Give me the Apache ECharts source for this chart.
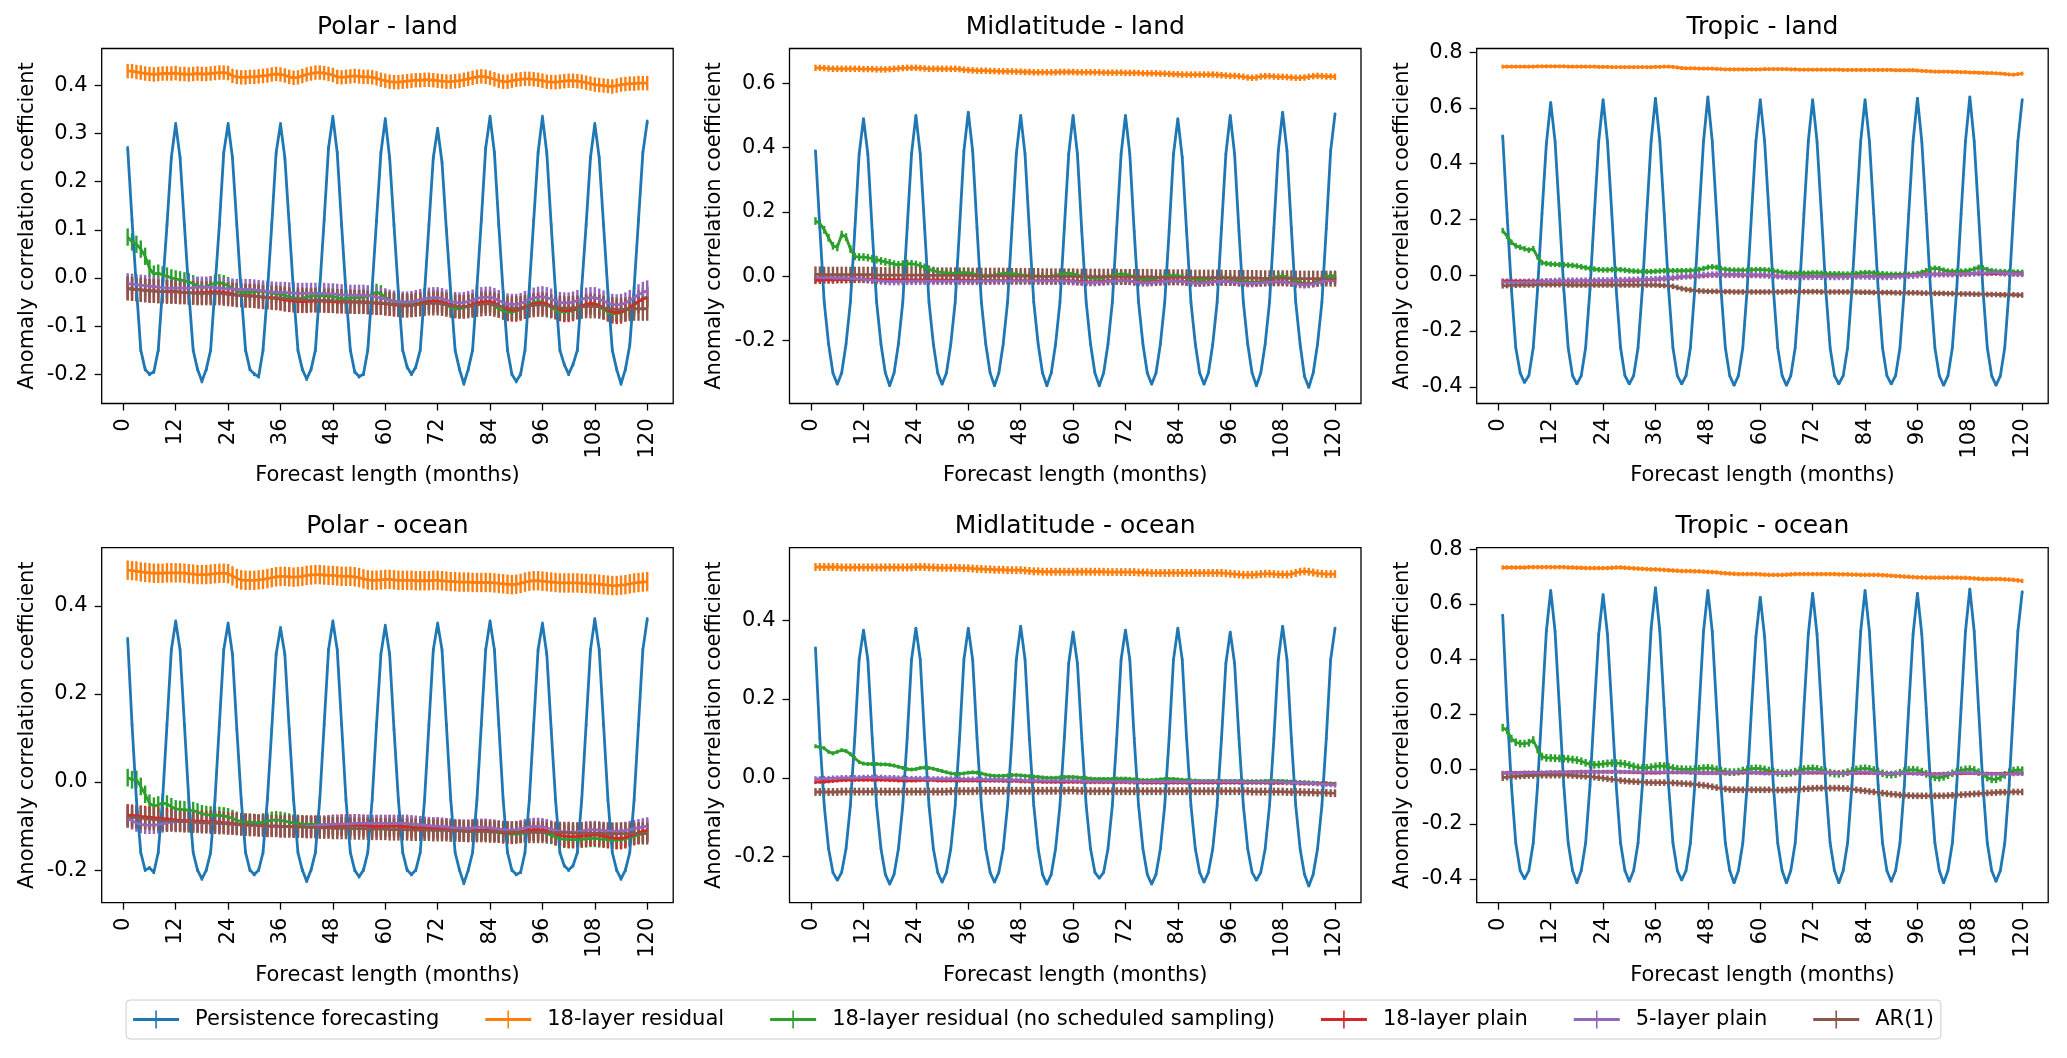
<!DOCTYPE html>
<html>
<head>
<meta charset="utf-8">
<title>Anomaly correlation coefficient</title>
<script src="https://cdn.jsdelivr.net/npm/echarts@6.0.0/dist/echarts.min.js"></script>
<style>
  body { margin: 0; background: #fff; }
  #main { width: 2067px; height: 1058px; }
</style>
</head>
<body>
<div id="main"></div>
<script>
// forecast months 1..120 (x positions)
const months = Array.from({ length: 120 }, (_, i) => i + 1);
const xTicks = [0, 12, 24, 36, 48, 60, 72, 84, 96, 108, 120];

const seriesNames = [
  "Persistence forecasting",
  "18-layer residual",
  "18-layer residual (no scheduled sampling)",
  "18-layer plain",
  "5-layer plain",
  "AR(1)"
];

// ---------- Polar - land ----------
const yTicksPolarLand = [-0.2, -0.1, 0, 0.1, 0.2, 0.3, 0.4];
const errPolarLand = [0.004, 0.015, 0.018, 0.024, 0.022, 0.025];
const persPolarLand = [
  0.27,0.12,-0.02,-0.15,-0.19,-0.2,-0.195,-0.15,-0.02,0.11,0.25,0.32,
  0.25,0.11,-0.03,-0.15,-0.19,-0.215,-0.19,-0.15,-0.02,0.11,0.26,0.32,
  0.25,0.11,-0.03,-0.15,-0.19,-0.2,-0.205,-0.15,-0.03,0.11,0.26,0.32,
  0.25,0.11,-0.03,-0.15,-0.19,-0.21,-0.19,-0.15,-0.02,0.12,0.27,0.335,
  0.26,0.11,-0.03,-0.15,-0.195,-0.205,-0.2,-0.15,-0.02,0.12,0.26,0.33,
  0.25,0.11,-0.03,-0.15,-0.185,-0.2,-0.185,-0.15,-0.03,0.11,0.25,0.31,
  0.24,0.1,-0.03,-0.15,-0.19,-0.22,-0.19,-0.15,-0.02,0.12,0.27,0.335,
  0.26,0.11,-0.03,-0.15,-0.2,-0.215,-0.2,-0.15,-0.02,0.12,0.26,0.335,
  0.26,0.11,-0.03,-0.15,-0.18,-0.2,-0.18,-0.15,-0.02,0.11,0.25,0.32,
  0.25,0.11,-0.03,-0.15,-0.19,-0.22,-0.19,-0.14,-0.02,0.12,0.26,0.325
];
const resPolarLand = [
  0.43,0.43,0.428,0.427,0.425,0.424,0.423,0.424,0.425,0.425,
  0.425,0.426,0.424,0.424,0.423,0.424,0.425,0.424,0.424,0.425,
  0.426,0.427,0.427,0.426,0.42,0.418,0.417,0.417,0.418,0.418,
  0.419,0.42,0.421,0.423,0.424,0.423,0.421,0.418,0.416,0.417,
  0.42,0.423,0.425,0.427,0.427,0.426,0.424,0.422,0.418,0.417,
  0.418,0.419,0.42,0.419,0.418,0.418,0.417,0.415,0.412,0.41,
  0.408,0.407,0.407,0.408,0.409,0.41,0.411,0.411,0.412,0.412,
  0.411,0.41,0.409,0.408,0.408,0.409,0.41,0.412,0.414,0.416,
  0.418,0.419,0.418,0.416,0.413,0.41,0.408,0.408,0.41,0.412,
  0.413,0.414,0.414,0.413,0.412,0.41,0.408,0.407,0.407,0.408,
  0.409,0.41,0.41,0.409,0.408,0.406,0.404,0.402,0.401,0.4,
  0.399,0.398,0.4,0.402,0.403,0.404,0.404,0.405,0.405,0.405
];
const noSsPolarLand = [
  0.085,0.075,0.07,0.06,0.045,0.02,0.008,0.01,0.006,0.004,
  0.0,-0.002,-0.004,-0.006,-0.008,-0.012,-0.016,-0.02,-0.018,-0.014,
  -0.011,-0.01,-0.012,-0.016,-0.022,-0.027,-0.03,-0.03,-0.03,-0.029,
  -0.028,-0.028,-0.029,-0.031,-0.033,-0.034,-0.036,-0.039,-0.042,-0.043,
  -0.042,-0.04,-0.038,-0.037,-0.037,-0.037,-0.038,-0.039,-0.041,-0.043,
  -0.043,-0.042,-0.041,-0.041,-0.04,-0.038,-0.034,-0.03,-0.033,-0.04,
  -0.046,-0.05,-0.052,-0.054,-0.055,-0.055,-0.054,-0.052,-0.05,-0.048,
  -0.047,-0.048,-0.052,-0.057,-0.061,-0.064,-0.064,-0.062,-0.059,-0.056,
  -0.054,-0.052,-0.051,-0.053,-0.058,-0.064,-0.069,-0.071,-0.071,-0.069,
  -0.065,-0.06,-0.055,-0.051,-0.049,-0.05,-0.055,-0.061,-0.067,-0.07,
  -0.071,-0.07,-0.068,-0.064,-0.06,-0.056,-0.054,-0.055,-0.06,-0.066,
  -0.071,-0.074,-0.074,-0.072,-0.068,-0.063,-0.056,-0.049,-0.043,-0.04
];
const plainPolarLand = [
  -0.022,-0.023,-0.024,-0.025,-0.026,-0.027,-0.027,-0.028,-0.028,-0.028,
  -0.028,-0.028,-0.029,-0.03,-0.031,-0.031,-0.031,-0.03,-0.03,-0.029,
  -0.029,-0.029,-0.03,-0.031,-0.033,-0.035,-0.036,-0.037,-0.037,-0.038,
  -0.039,-0.04,-0.041,-0.042,-0.043,-0.044,-0.046,-0.047,-0.048,-0.049,
  -0.049,-0.049,-0.048,-0.048,-0.048,-0.048,-0.049,-0.049,-0.05,-0.05,
  -0.05,-0.05,-0.05,-0.05,-0.05,-0.051,-0.052,-0.053,-0.053,-0.054,
  -0.055,-0.056,-0.057,-0.058,-0.058,-0.057,-0.055,-0.053,-0.051,-0.049,
  -0.048,-0.048,-0.05,-0.053,-0.056,-0.059,-0.06,-0.06,-0.058,-0.055,
  -0.052,-0.05,-0.049,-0.049,-0.052,-0.057,-0.062,-0.066,-0.067,-0.067,
  -0.065,-0.061,-0.057,-0.054,-0.052,-0.052,-0.054,-0.058,-0.062,-0.066,
  -0.068,-0.068,-0.066,-0.062,-0.058,-0.055,-0.053,-0.054,-0.057,-0.062,
  -0.067,-0.071,-0.072,-0.071,-0.067,-0.061,-0.055,-0.049,-0.044,-0.041
];
const plain5PolarLand = [
  -0.012,-0.013,-0.014,-0.015,-0.016,-0.017,-0.018,-0.019,-0.02,-0.021,
  -0.021,-0.021,-0.021,-0.021,-0.021,-0.02,-0.019,-0.019,-0.019,-0.019,
  -0.02,-0.021,-0.022,-0.022,-0.023,-0.024,-0.024,-0.024,-0.024,-0.025,
  -0.026,-0.027,-0.028,-0.029,-0.03,-0.03,-0.03,-0.031,-0.031,-0.032,
  -0.032,-0.032,-0.032,-0.032,-0.032,-0.032,-0.033,-0.033,-0.034,-0.035,
  -0.035,-0.036,-0.036,-0.036,-0.036,-0.037,-0.038,-0.04,-0.042,-0.044,
  -0.046,-0.048,-0.049,-0.05,-0.05,-0.049,-0.047,-0.045,-0.043,-0.042,
  -0.041,-0.041,-0.043,-0.046,-0.049,-0.051,-0.052,-0.051,-0.049,-0.046,
  -0.043,-0.041,-0.04,-0.04,-0.043,-0.047,-0.051,-0.054,-0.055,-0.055,
  -0.053,-0.049,-0.045,-0.042,-0.04,-0.039,-0.041,-0.044,-0.048,-0.051,
  -0.052,-0.052,-0.05,-0.047,-0.044,-0.042,-0.041,-0.041,-0.044,-0.048,
  -0.052,-0.055,-0.056,-0.055,-0.052,-0.047,-0.041,-0.035,-0.03,-0.027
];
const arPolarLand = [
  -0.022,-0.023,-0.024,-0.025,-0.026,-0.027,-0.027,-0.028,-0.028,-0.029,
  -0.029,-0.029,-0.03,-0.03,-0.031,-0.031,-0.032,-0.032,-0.032,-0.032,
  -0.032,-0.032,-0.033,-0.034,-0.035,-0.036,-0.036,-0.037,-0.037,-0.038,
  -0.039,-0.04,-0.04,-0.041,-0.041,-0.042,-0.043,-0.044,-0.044,-0.045,
  -0.045,-0.046,-0.046,-0.046,-0.046,-0.047,-0.047,-0.047,-0.048,-0.048,
  -0.049,-0.049,-0.05,-0.05,-0.05,-0.051,-0.051,-0.052,-0.052,-0.053,
  -0.054,-0.055,-0.056,-0.057,-0.057,-0.057,-0.056,-0.055,-0.054,-0.053,
  -0.053,-0.053,-0.054,-0.056,-0.058,-0.059,-0.06,-0.06,-0.059,-0.058,
  -0.056,-0.055,-0.054,-0.054,-0.056,-0.058,-0.06,-0.062,-0.063,-0.063,
  -0.062,-0.06,-0.058,-0.057,-0.056,-0.056,-0.057,-0.059,-0.061,-0.062,
  -0.063,-0.063,-0.062,-0.061,-0.06,-0.059,-0.059,-0.059,-0.06,-0.062,
  -0.064,-0.065,-0.066,-0.066,-0.065,-0.065,-0.064,-0.064,-0.064,-0.064
];

// ---------- Midlatitude - land ----------
const yTicksMidLand = [-0.2, 0, 0.2, 0.4, 0.6];
const errMidLand = [0.004, 0.01, 0.012, 0.012, 0.012, 0.025];
const persMidLand = [
  0.39,0.15,-0.08,-0.21,-0.3,-0.335,-0.3,-0.21,-0.08,0.14,0.38,0.49,
  0.38,0.14,-0.08,-0.21,-0.3,-0.34,-0.3,-0.21,-0.08,0.15,0.38,0.5,
  0.38,0.15,-0.08,-0.21,-0.3,-0.335,-0.3,-0.21,-0.08,0.15,0.39,0.51,
  0.39,0.15,-0.08,-0.21,-0.3,-0.34,-0.3,-0.21,-0.08,0.15,0.38,0.5,
  0.38,0.14,-0.08,-0.21,-0.3,-0.34,-0.3,-0.21,-0.08,0.15,0.38,0.5,
  0.38,0.14,-0.08,-0.21,-0.3,-0.34,-0.3,-0.21,-0.08,0.15,0.38,0.5,
  0.38,0.14,-0.08,-0.21,-0.3,-0.335,-0.3,-0.21,-0.08,0.14,0.38,0.49,
  0.37,0.14,-0.08,-0.21,-0.3,-0.335,-0.3,-0.21,-0.08,0.15,0.38,0.5,
  0.38,0.14,-0.08,-0.21,-0.3,-0.34,-0.3,-0.21,-0.08,0.15,0.39,0.51,
  0.39,0.15,-0.08,-0.21,-0.31,-0.345,-0.3,-0.21,-0.08,0.15,0.39,0.505
];
const resMidLand = [
  0.648,0.648,0.647,0.646,0.645,0.645,0.645,0.645,0.645,0.645,
  0.645,0.644,0.644,0.644,0.643,0.643,0.643,0.644,0.645,0.646,
  0.647,0.648,0.648,0.648,0.647,0.646,0.645,0.645,0.645,0.645,
  0.645,0.645,0.645,0.644,0.642,0.641,0.64,0.639,0.639,0.639,
  0.638,0.638,0.637,0.637,0.637,0.637,0.636,0.636,0.635,0.635,
  0.634,0.634,0.634,0.634,0.634,0.634,0.635,0.635,0.635,0.635,
  0.634,0.634,0.634,0.634,0.634,0.634,0.633,0.633,0.633,0.633,
  0.633,0.632,0.632,0.632,0.632,0.631,0.631,0.631,0.631,0.63,
  0.63,0.629,0.628,0.628,0.627,0.627,0.627,0.627,0.627,0.627,
  0.627,0.627,0.626,0.625,0.624,0.623,0.623,0.622,0.62,0.618,
  0.617,0.618,0.621,0.622,0.622,0.621,0.62,0.62,0.619,0.618,
  0.617,0.617,0.618,0.62,0.622,0.623,0.622,0.621,0.621,0.62
];
const noSsMidLand = [
  0.172,0.165,0.145,0.12,0.095,0.09,0.13,0.122,0.085,0.062,
  0.06,0.06,0.058,0.055,0.052,0.048,0.045,0.042,0.038,0.036,
  0.038,0.04,0.039,0.037,0.033,0.028,0.022,0.018,0.014,0.012,
  0.011,0.01,0.01,0.011,0.012,0.011,0.009,0.005,0.001,-0.001,
  0.0,0.003,0.007,0.009,0.01,0.009,0.007,0.005,0.003,0.002,
  0.001,0.0,0.0,0.0,0.001,0.003,0.006,0.009,0.01,0.008,
  0.004,0.0,-0.003,-0.005,-0.006,-0.006,-0.004,-0.001,0.003,0.006,
  0.008,0.007,0.003,-0.002,-0.006,-0.009,-0.01,-0.009,-0.006,-0.003,
  0.0,0.002,0.003,0.002,-0.001,-0.005,-0.008,-0.01,-0.011,-0.01,
  -0.008,-0.006,-0.004,-0.003,-0.003,-0.005,-0.008,-0.012,-0.015,-0.017,
  -0.018,-0.018,-0.016,-0.012,-0.007,-0.003,0.0,0.001,-0.002,-0.008,
  -0.014,-0.019,-0.022,-0.023,-0.02,-0.014,-0.007,-0.001,0.002,0.002
];
const plainMidLand = [
  -0.012,-0.012,-0.011,-0.011,-0.011,-0.01,-0.01,-0.01,-0.01,-0.009,
  -0.009,-0.009,-0.009,-0.009,-0.01,-0.01,-0.01,-0.01,-0.01,-0.011,
  -0.011,-0.011,-0.011,-0.011,-0.011,-0.011,-0.011,-0.011,-0.011,-0.011,
  -0.012,-0.012,-0.012,-0.012,-0.012,-0.012,-0.013,-0.013,-0.013,-0.013,
  -0.013,-0.013,-0.013,-0.013,-0.013,-0.013,-0.013,-0.013,-0.013,-0.013,
  -0.013,-0.013,-0.013,-0.013,-0.013,-0.013,-0.013,-0.013,-0.013,-0.014,
  -0.015,-0.016,-0.017,-0.017,-0.017,-0.016,-0.015,-0.014,-0.013,-0.013,
  -0.013,-0.013,-0.014,-0.016,-0.017,-0.018,-0.018,-0.017,-0.016,-0.015,
  -0.014,-0.014,-0.014,-0.014,-0.015,-0.017,-0.019,-0.02,-0.02,-0.019,
  -0.018,-0.016,-0.015,-0.015,-0.015,-0.016,-0.017,-0.019,-0.02,-0.021,
  -0.021,-0.02,-0.019,-0.018,-0.017,-0.017,-0.017,-0.017,-0.018,-0.02,
  -0.022,-0.023,-0.024,-0.023,-0.021,-0.019,-0.016,-0.014,-0.012,-0.012
];
const plain5MidLand = [
  -0.004,-0.004,-0.004,-0.004,-0.005,-0.005,-0.005,-0.006,-0.006,-0.007,
  -0.008,-0.009,-0.01,-0.012,-0.013,-0.014,-0.015,-0.016,-0.016,-0.016,
  -0.016,-0.015,-0.015,-0.015,-0.015,-0.015,-0.015,-0.015,-0.015,-0.015,
  -0.015,-0.015,-0.015,-0.015,-0.015,-0.015,-0.015,-0.015,-0.015,-0.015,
  -0.015,-0.014,-0.014,-0.014,-0.014,-0.014,-0.014,-0.014,-0.014,-0.014,
  -0.014,-0.014,-0.014,-0.014,-0.014,-0.014,-0.014,-0.014,-0.015,-0.016,
  -0.017,-0.018,-0.019,-0.019,-0.019,-0.018,-0.017,-0.016,-0.015,-0.014,
  -0.014,-0.014,-0.015,-0.017,-0.019,-0.02,-0.02,-0.019,-0.018,-0.017,
  -0.016,-0.015,-0.015,-0.015,-0.016,-0.018,-0.02,-0.021,-0.021,-0.02,
  -0.019,-0.017,-0.016,-0.016,-0.016,-0.017,-0.018,-0.02,-0.021,-0.022,
  -0.022,-0.021,-0.02,-0.019,-0.018,-0.017,-0.017,-0.018,-0.019,-0.021,
  -0.023,-0.025,-0.026,-0.025,-0.023,-0.02,-0.017,-0.014,-0.012,-0.011
];
const arMidLand = [
  0.006,0.006,0.005,0.005,0.005,0.005,0.005,0.005,0.005,0.005,
  0.005,0.005,0.005,0.005,0.004,0.004,0.004,0.004,0.004,0.004,
  0.004,0.004,0.004,0.004,0.004,0.004,0.003,0.003,0.003,0.003,
  0.003,0.003,0.003,0.003,0.003,0.003,0.002,0.002,0.002,0.002,
  0.002,0.002,0.002,0.002,0.002,0.001,0.001,0.001,0.001,0.001,
  0.001,0.001,0.0,0.0,0.0,0.0,0.0,0.0,0.0,0.0,
  -0.001,-0.001,-0.001,-0.001,-0.001,-0.001,-0.001,-0.001,-0.001,-0.001,
  -0.002,-0.002,-0.002,-0.002,-0.002,-0.002,-0.002,-0.002,-0.003,-0.003,
  -0.003,-0.003,-0.003,-0.003,-0.003,-0.003,-0.004,-0.004,-0.004,-0.004,
  -0.004,-0.004,-0.004,-0.004,-0.005,-0.005,-0.005,-0.005,-0.005,-0.005,
  -0.005,-0.005,-0.006,-0.006,-0.006,-0.006,-0.006,-0.006,-0.006,-0.006,
  -0.007,-0.007,-0.007,-0.007,-0.007,-0.007,-0.007,-0.007,-0.007,-0.007
];

// ---------- Tropic - land ----------
const yTicksTropicLand = [-0.4, -0.2, 0, 0.2, 0.4, 0.6, 0.8];
const errTropicLand = [0.004, 0.007, 0.01, 0.008, 0.012, 0.01];
const persTropicLand = [
  0.5,0.22,-0.05,-0.26,-0.35,-0.385,-0.36,-0.26,-0.05,0.22,0.47,0.62,
  0.48,0.22,-0.05,-0.26,-0.36,-0.39,-0.36,-0.26,-0.05,0.22,0.48,0.63,
  0.48,0.22,-0.05,-0.26,-0.36,-0.39,-0.36,-0.26,-0.05,0.22,0.48,0.635,
  0.48,0.22,-0.05,-0.26,-0.36,-0.39,-0.36,-0.26,-0.05,0.22,0.48,0.64,
  0.48,0.22,-0.05,-0.26,-0.36,-0.395,-0.36,-0.26,-0.05,0.22,0.48,0.63,
  0.48,0.22,-0.05,-0.26,-0.36,-0.395,-0.36,-0.26,-0.05,0.22,0.48,0.63,
  0.48,0.22,-0.05,-0.26,-0.36,-0.39,-0.36,-0.26,-0.05,0.22,0.48,0.63,
  0.48,0.22,-0.05,-0.26,-0.36,-0.39,-0.36,-0.26,-0.05,0.22,0.48,0.635,
  0.48,0.22,-0.05,-0.26,-0.36,-0.395,-0.36,-0.26,-0.05,0.22,0.48,0.64,
  0.48,0.22,-0.05,-0.26,-0.36,-0.395,-0.36,-0.26,-0.05,0.22,0.48,0.63
];
const resTropicLand = [
  0.748,0.748,0.748,0.748,0.748,0.748,0.748,0.748,0.749,0.749,
  0.749,0.749,0.749,0.749,0.749,0.748,0.748,0.748,0.748,0.748,
  0.748,0.748,0.747,0.747,0.747,0.746,0.746,0.746,0.746,0.746,
  0.746,0.746,0.746,0.746,0.746,0.747,0.747,0.748,0.748,0.747,
  0.745,0.743,0.742,0.742,0.742,0.741,0.741,0.741,0.741,0.74,
  0.739,0.738,0.738,0.738,0.738,0.738,0.738,0.738,0.738,0.738,
  0.739,0.739,0.739,0.739,0.739,0.739,0.738,0.738,0.737,0.737,
  0.737,0.737,0.737,0.737,0.737,0.737,0.737,0.737,0.736,0.736,
  0.736,0.736,0.736,0.736,0.736,0.736,0.736,0.736,0.736,0.736,
  0.735,0.735,0.735,0.735,0.735,0.734,0.733,0.732,0.731,0.73,
  0.73,0.73,0.73,0.729,0.729,0.728,0.728,0.727,0.727,0.726,
  0.726,0.725,0.725,0.724,0.723,0.722,0.72,0.719,0.721,0.723
];
const noSsTropicLand = [
  0.16,0.14,0.118,0.105,0.1,0.095,0.09,0.095,0.065,0.045,
  0.042,0.04,0.039,0.038,0.037,0.036,0.035,0.033,0.03,0.027,
  0.024,0.022,0.02,0.019,0.019,0.02,0.021,0.02,0.018,0.016,
  0.015,0.014,0.013,0.013,0.013,0.014,0.015,0.016,0.016,0.016,
  0.016,0.016,0.016,0.017,0.018,0.02,0.024,0.028,0.03,0.028,
  0.024,0.021,0.019,0.018,0.018,0.018,0.018,0.019,0.02,0.02,
  0.019,0.018,0.016,0.013,0.01,0.008,0.007,0.007,0.007,0.007,
  0.007,0.008,0.008,0.007,0.006,0.005,0.005,0.005,0.004,0.004,
  0.005,0.006,0.008,0.009,0.009,0.008,0.006,0.005,0.004,0.003,
  0.003,0.003,0.003,0.003,0.004,0.006,0.01,0.016,0.022,0.025,
  0.023,0.018,0.015,0.014,0.014,0.014,0.015,0.017,0.022,0.028,
  0.026,0.02,0.016,0.014,0.013,0.012,0.012,0.011,0.011,0.01
];
const plainTropicLand = [
  -0.02,-0.02,-0.021,-0.021,-0.021,-0.021,-0.021,-0.021,-0.021,-0.021,
  -0.021,-0.021,-0.021,-0.021,-0.021,-0.021,-0.021,-0.021,-0.02,-0.02,
  -0.02,-0.02,-0.02,-0.02,-0.02,-0.02,-0.019,-0.019,-0.019,-0.019,
  -0.018,-0.018,-0.017,-0.017,-0.016,-0.015,-0.014,-0.013,-0.012,-0.01,
  -0.008,-0.006,-0.005,-0.004,-0.003,-0.002,-0.001,0.0,0.001,0.001,
  0.001,0.001,0.001,0.001,0.001,0.0,0.0,0.0,0.0,0.0,
  0.0,-0.001,-0.002,-0.003,-0.004,-0.005,-0.005,-0.005,-0.005,-0.005,
  -0.005,-0.004,-0.004,-0.004,-0.004,-0.005,-0.005,-0.005,-0.005,-0.005,
  -0.004,-0.003,-0.003,-0.003,-0.004,-0.004,-0.005,-0.005,-0.005,-0.004,
  -0.003,-0.002,-0.002,-0.001,0.0,0.001,0.002,0.003,0.004,0.004,
  0.004,0.004,0.004,0.004,0.004,0.004,0.005,0.005,0.006,0.006,
  0.006,0.006,0.006,0.006,0.006,0.005,0.005,0.005,0.004,0.004
];
const plain5TropicLand = [
  -0.025,-0.025,-0.025,-0.025,-0.025,-0.025,-0.024,-0.024,-0.024,-0.023,
  -0.022,-0.022,-0.021,-0.02,-0.02,-0.02,-0.02,-0.02,-0.02,-0.02,
  -0.02,-0.02,-0.019,-0.019,-0.019,-0.018,-0.018,-0.018,-0.018,-0.017,
  -0.017,-0.016,-0.016,-0.015,-0.015,-0.014,-0.013,-0.012,-0.011,-0.009,
  -0.007,-0.005,-0.004,-0.003,-0.002,-0.001,0.0,0.001,0.002,0.002,
  0.002,0.002,0.002,0.002,0.002,0.001,0.001,0.001,0.001,0.0,
  0.0,-0.001,-0.002,-0.003,-0.004,-0.005,-0.006,-0.006,-0.006,-0.006,
  -0.006,-0.005,-0.005,-0.005,-0.005,-0.006,-0.006,-0.006,-0.006,-0.005,
  -0.004,-0.004,-0.004,-0.004,-0.005,-0.005,-0.006,-0.006,-0.006,-0.005,
  -0.004,-0.003,-0.002,-0.002,-0.001,0.0,0.001,0.002,0.003,0.004,
  0.004,0.004,0.004,0.004,0.005,0.005,0.005,0.006,0.007,0.008,
  0.008,0.008,0.009,0.009,0.008,0.007,0.006,0.006,0.005,0.005
];
const arTropicLand = [
  -0.038,-0.037,-0.036,-0.036,-0.035,-0.035,-0.035,-0.035,-0.034,-0.034,
  -0.034,-0.034,-0.034,-0.034,-0.034,-0.035,-0.035,-0.035,-0.035,-0.035,
  -0.035,-0.035,-0.035,-0.035,-0.035,-0.035,-0.035,-0.035,-0.035,-0.035,
  -0.035,-0.035,-0.035,-0.035,-0.035,-0.035,-0.036,-0.037,-0.038,-0.04,
  -0.044,-0.048,-0.051,-0.053,-0.055,-0.056,-0.057,-0.058,-0.058,-0.058,
  -0.059,-0.059,-0.059,-0.06,-0.06,-0.06,-0.06,-0.06,-0.06,-0.06,
  -0.06,-0.06,-0.06,-0.06,-0.06,-0.059,-0.059,-0.059,-0.059,-0.059,
  -0.059,-0.059,-0.059,-0.06,-0.06,-0.06,-0.06,-0.06,-0.06,-0.06,
  -0.06,-0.06,-0.061,-0.061,-0.061,-0.062,-0.062,-0.062,-0.062,-0.062,
  -0.063,-0.063,-0.063,-0.063,-0.063,-0.063,-0.064,-0.064,-0.064,-0.065,
  -0.065,-0.065,-0.066,-0.066,-0.066,-0.067,-0.067,-0.067,-0.068,-0.068,
  -0.068,-0.069,-0.069,-0.069,-0.07,-0.07,-0.07,-0.07,-0.071,-0.071
];

// ---------- Polar - ocean ----------
const yTicksPolarOcean = [-0.2, 0, 0.2, 0.4];
const errPolarOcean = [0.004, 0.022, 0.02, 0.025, 0.02, 0.025];
const persPolarOcean = [
  0.325,0.13,-0.04,-0.16,-0.2,-0.195,-0.205,-0.16,-0.04,0.13,0.3,0.365,
  0.3,0.13,-0.04,-0.16,-0.2,-0.22,-0.2,-0.16,-0.04,0.13,0.3,0.36,
  0.29,0.12,-0.04,-0.16,-0.2,-0.21,-0.2,-0.16,-0.04,0.12,0.29,0.35,
  0.29,0.12,-0.04,-0.16,-0.2,-0.225,-0.2,-0.16,-0.04,0.13,0.3,0.365,
  0.3,0.13,-0.04,-0.16,-0.2,-0.215,-0.2,-0.16,-0.04,0.13,0.29,0.355,
  0.29,0.12,-0.04,-0.16,-0.2,-0.21,-0.2,-0.16,-0.04,0.13,0.3,0.36,
  0.3,0.13,-0.04,-0.16,-0.2,-0.23,-0.2,-0.16,-0.04,0.13,0.3,0.365,
  0.3,0.13,-0.04,-0.16,-0.2,-0.21,-0.205,-0.16,-0.04,0.13,0.3,0.36,
  0.29,0.12,-0.04,-0.16,-0.19,-0.2,-0.19,-0.16,-0.04,0.13,0.3,0.37,
  0.3,0.13,-0.04,-0.16,-0.2,-0.22,-0.2,-0.16,-0.04,0.13,0.3,0.37
];
const resPolarOcean = [
  0.481,0.48,0.479,0.477,0.476,0.475,0.474,0.474,0.474,0.475,
  0.475,0.475,0.475,0.474,0.473,0.472,0.471,0.471,0.471,0.472,
  0.473,0.474,0.474,0.473,0.468,0.462,0.459,0.458,0.458,0.458,
  0.459,0.46,0.462,0.464,0.466,0.467,0.467,0.466,0.465,0.466,
  0.467,0.469,0.47,0.471,0.471,0.47,0.469,0.469,0.468,0.467,
  0.467,0.467,0.466,0.464,0.461,0.459,0.458,0.458,0.459,0.46,
  0.46,0.459,0.458,0.458,0.458,0.458,0.457,0.457,0.457,0.457,
  0.458,0.458,0.457,0.456,0.455,0.455,0.454,0.454,0.454,0.453,
  0.453,0.453,0.453,0.453,0.452,0.451,0.45,0.449,0.448,0.449,
  0.451,0.454,0.456,0.457,0.457,0.456,0.455,0.454,0.453,0.452,
  0.452,0.452,0.452,0.452,0.451,0.451,0.45,0.45,0.449,0.448,
  0.447,0.446,0.446,0.447,0.448,0.45,0.452,0.453,0.454,0.455
];
const noSsPolarOcean = [
  0.01,0.005,0.006,-0.01,-0.028,-0.048,-0.055,-0.052,-0.047,-0.05,
  -0.056,-0.061,-0.062,-0.063,-0.064,-0.065,-0.068,-0.072,-0.074,-0.075,
  -0.075,-0.076,-0.077,-0.079,-0.083,-0.087,-0.09,-0.091,-0.091,-0.092,
  -0.093,-0.091,-0.089,-0.087,-0.086,-0.087,-0.089,-0.091,-0.093,-0.094,
  -0.095,-0.096,-0.096,-0.096,-0.097,-0.098,-0.098,-0.099,-0.1,-0.1,
  -0.1,-0.1,-0.099,-0.099,-0.099,-0.1,-0.1,-0.101,-0.101,-0.101,
  -0.101,-0.1,-0.1,-0.1,-0.101,-0.102,-0.103,-0.104,-0.104,-0.105,
  -0.105,-0.106,-0.107,-0.108,-0.109,-0.11,-0.111,-0.112,-0.112,-0.112,
  -0.112,-0.112,-0.112,-0.113,-0.114,-0.115,-0.116,-0.117,-0.118,-0.118,
  -0.117,-0.115,-0.114,-0.113,-0.113,-0.114,-0.117,-0.121,-0.125,-0.128,
  -0.13,-0.131,-0.131,-0.131,-0.13,-0.129,-0.128,-0.128,-0.129,-0.13,
  -0.131,-0.132,-0.132,-0.131,-0.129,-0.126,-0.123,-0.12,-0.118,-0.116
];
const plainPolarOcean = [
  -0.075,-0.076,-0.077,-0.078,-0.079,-0.08,-0.081,-0.082,-0.083,-0.084,
  -0.085,-0.086,-0.087,-0.087,-0.088,-0.088,-0.089,-0.089,-0.09,-0.09,
  -0.09,-0.091,-0.092,-0.093,-0.094,-0.095,-0.096,-0.097,-0.098,-0.098,
  -0.099,-0.099,-0.1,-0.1,-0.1,-0.101,-0.101,-0.101,-0.101,-0.101,
  -0.101,-0.101,-0.101,-0.101,-0.101,-0.101,-0.1,-0.099,-0.099,-0.098,
  -0.098,-0.098,-0.098,-0.098,-0.099,-0.1,-0.101,-0.101,-0.101,-0.1,
  -0.1,-0.1,-0.1,-0.101,-0.102,-0.103,-0.104,-0.104,-0.105,-0.105,
  -0.105,-0.105,-0.106,-0.107,-0.108,-0.109,-0.11,-0.111,-0.111,-0.11,
  -0.11,-0.109,-0.109,-0.11,-0.111,-0.113,-0.115,-0.116,-0.116,-0.115,
  -0.113,-0.111,-0.109,-0.108,-0.108,-0.109,-0.111,-0.114,-0.118,-0.121,
  -0.123,-0.124,-0.124,-0.124,-0.123,-0.122,-0.121,-0.12,-0.121,-0.123,
  -0.125,-0.127,-0.128,-0.128,-0.126,-0.123,-0.119,-0.115,-0.112,-0.11
];
const plain5PolarOcean = [
  -0.083,-0.088,-0.093,-0.096,-0.098,-0.098,-0.098,-0.097,-0.095,-0.093,
  -0.091,-0.09,-0.09,-0.09,-0.09,-0.091,-0.092,-0.093,-0.093,-0.093,
  -0.093,-0.093,-0.094,-0.095,-0.096,-0.097,-0.097,-0.098,-0.098,-0.099,
  -0.099,-0.1,-0.1,-0.1,-0.101,-0.101,-0.101,-0.101,-0.102,-0.102,
  -0.102,-0.101,-0.1,-0.099,-0.098,-0.097,-0.096,-0.096,-0.095,-0.095,
  -0.095,-0.095,-0.094,-0.094,-0.094,-0.094,-0.094,-0.094,-0.094,-0.094,
  -0.094,-0.094,-0.094,-0.094,-0.094,-0.095,-0.096,-0.097,-0.098,-0.099,
  -0.1,-0.1,-0.101,-0.102,-0.103,-0.104,-0.105,-0.105,-0.105,-0.104,
  -0.103,-0.103,-0.103,-0.104,-0.105,-0.107,-0.108,-0.109,-0.109,-0.108,
  -0.106,-0.104,-0.102,-0.101,-0.101,-0.102,-0.104,-0.107,-0.11,-0.112,
  -0.113,-0.114,-0.114,-0.113,-0.111,-0.109,-0.108,-0.108,-0.109,-0.11,
  -0.111,-0.112,-0.112,-0.111,-0.11,-0.108,-0.106,-0.104,-0.102,-0.1
];
const arPolarOcean = [
  -0.079,-0.08,-0.081,-0.082,-0.083,-0.084,-0.085,-0.086,-0.087,-0.088,
  -0.088,-0.089,-0.089,-0.09,-0.09,-0.091,-0.091,-0.092,-0.092,-0.093,
  -0.093,-0.094,-0.094,-0.095,-0.095,-0.096,-0.097,-0.097,-0.098,-0.098,
  -0.099,-0.099,-0.1,-0.1,-0.1,-0.101,-0.101,-0.101,-0.102,-0.102,
  -0.102,-0.103,-0.103,-0.103,-0.104,-0.104,-0.104,-0.105,-0.105,-0.105,
  -0.105,-0.106,-0.106,-0.106,-0.106,-0.107,-0.107,-0.107,-0.107,-0.107,
  -0.108,-0.108,-0.108,-0.108,-0.108,-0.109,-0.109,-0.109,-0.109,-0.109,
  -0.11,-0.11,-0.11,-0.11,-0.111,-0.111,-0.111,-0.111,-0.112,-0.112,
  -0.112,-0.112,-0.112,-0.113,-0.113,-0.113,-0.113,-0.114,-0.114,-0.114,
  -0.114,-0.114,-0.114,-0.114,-0.114,-0.114,-0.115,-0.115,-0.115,-0.115,
  -0.115,-0.115,-0.116,-0.116,-0.116,-0.116,-0.116,-0.116,-0.116,-0.117,
  -0.117,-0.117,-0.117,-0.117,-0.117,-0.117,-0.117,-0.117,-0.117,-0.117
];

// ---------- Midlatitude - ocean ----------
const yTicksMidOcean = [-0.2, 0, 0.2, 0.4];
const errMidOcean = [0.003, 0.01, 0.005, 0.005, 0.007, 0.01];
const persMidOcean = [
  0.33,0.1,-0.07,-0.18,-0.24,-0.26,-0.24,-0.18,-0.07,0.1,0.3,0.375,
  0.3,0.1,-0.07,-0.18,-0.245,-0.27,-0.245,-0.18,-0.07,0.1,0.3,0.38,
  0.3,0.1,-0.07,-0.18,-0.24,-0.265,-0.24,-0.18,-0.07,0.1,0.3,0.38,
  0.3,0.1,-0.07,-0.18,-0.24,-0.265,-0.24,-0.18,-0.07,0.1,0.3,0.385,
  0.3,0.1,-0.07,-0.18,-0.245,-0.27,-0.245,-0.18,-0.07,0.1,0.29,0.37,
  0.29,0.1,-0.07,-0.18,-0.24,-0.255,-0.24,-0.18,-0.07,0.1,0.3,0.375,
  0.3,0.1,-0.07,-0.18,-0.245,-0.27,-0.245,-0.18,-0.07,0.1,0.3,0.38,
  0.3,0.1,-0.07,-0.18,-0.24,-0.265,-0.24,-0.18,-0.07,0.1,0.29,0.37,
  0.29,0.1,-0.07,-0.18,-0.24,-0.26,-0.24,-0.18,-0.07,0.1,0.3,0.385,
  0.3,0.1,-0.07,-0.18,-0.245,-0.275,-0.245,-0.18,-0.07,0.1,0.3,0.38
];
const resMidOcean = [
  0.535,0.535,0.535,0.535,0.535,0.535,0.534,0.534,0.534,0.534,
  0.534,0.534,0.534,0.534,0.534,0.534,0.534,0.534,0.534,0.534,
  0.534,0.534,0.534,0.535,0.535,0.535,0.534,0.534,0.533,0.533,
  0.533,0.533,0.533,0.533,0.532,0.532,0.531,0.53,0.53,0.529,
  0.529,0.528,0.528,0.528,0.527,0.527,0.527,0.527,0.526,0.525,
  0.524,0.524,0.523,0.523,0.523,0.523,0.523,0.523,0.523,0.523,
  0.523,0.523,0.523,0.523,0.523,0.523,0.523,0.522,0.522,0.522,
  0.522,0.522,0.522,0.522,0.521,0.521,0.521,0.52,0.52,0.52,
  0.52,0.52,0.52,0.52,0.52,0.52,0.52,0.52,0.52,0.52,
  0.52,0.52,0.52,0.52,0.519,0.518,0.517,0.516,0.515,0.515,
  0.515,0.516,0.517,0.518,0.518,0.517,0.516,0.516,0.516,0.517,
  0.52,0.523,0.524,0.523,0.521,0.519,0.518,0.517,0.517,0.517
];
const noSsMidOcean = [
  0.08,0.078,0.075,0.066,0.062,0.066,0.07,0.068,0.06,0.05,
  0.04,0.036,0.035,0.035,0.035,0.034,0.034,0.033,0.031,0.028,
  0.025,0.022,0.021,0.022,0.025,0.026,0.025,0.023,0.02,0.017,
  0.014,0.011,0.01,0.01,0.011,0.013,0.014,0.013,0.011,0.008,
  0.006,0.005,0.005,0.005,0.006,0.007,0.007,0.006,0.005,0.004,
  0.003,0.002,0.001,0.0,0.0,0.0,0.001,0.002,0.002,0.002,
  0.001,0.0,-0.001,-0.002,-0.003,-0.003,-0.003,-0.003,-0.003,-0.002,
  -0.002,-0.002,-0.003,-0.004,-0.005,-0.006,-0.006,-0.006,-0.005,-0.004,
  -0.003,-0.003,-0.003,-0.004,-0.005,-0.006,-0.007,-0.007,-0.008,-0.008,
  -0.008,-0.008,-0.008,-0.008,-0.008,-0.008,-0.008,-0.008,-0.009,-0.009,
  -0.009,-0.009,-0.009,-0.008,-0.008,-0.008,-0.008,-0.008,-0.009,-0.01,
  -0.011,-0.011,-0.012,-0.012,-0.013,-0.013,-0.014,-0.014,-0.015,-0.015
];
const plainMidOcean = [
  -0.011,-0.01,-0.01,-0.009,-0.008,-0.007,-0.006,-0.006,-0.005,-0.005,
  -0.005,-0.005,-0.005,-0.005,-0.005,-0.005,-0.005,-0.006,-0.006,-0.007,
  -0.007,-0.007,-0.007,-0.007,-0.006,-0.006,-0.006,-0.006,-0.007,-0.007,
  -0.007,-0.007,-0.007,-0.007,-0.007,-0.007,-0.007,-0.007,-0.007,-0.007,
  -0.007,-0.007,-0.007,-0.008,-0.008,-0.008,-0.008,-0.009,-0.009,-0.009,
  -0.009,-0.009,-0.01,-0.01,-0.01,-0.01,-0.01,-0.01,-0.01,-0.01,
  -0.01,-0.01,-0.011,-0.011,-0.011,-0.011,-0.011,-0.011,-0.011,-0.011,
  -0.011,-0.011,-0.011,-0.011,-0.011,-0.012,-0.012,-0.012,-0.012,-0.012,
  -0.012,-0.012,-0.012,-0.012,-0.012,-0.012,-0.012,-0.012,-0.012,-0.012,
  -0.012,-0.012,-0.012,-0.012,-0.012,-0.012,-0.012,-0.012,-0.012,-0.012,
  -0.012,-0.012,-0.012,-0.012,-0.013,-0.013,-0.013,-0.013,-0.013,-0.013,
  -0.013,-0.014,-0.014,-0.014,-0.014,-0.015,-0.015,-0.015,-0.016,-0.016
];
const plain5MidOcean = [
  -0.003,-0.003,-0.002,-0.002,-0.001,-0.001,0.0,0.0,0.0,0.0,
  0.0,0.001,0.001,0.001,0.001,0.001,0.0,0.0,0.0,-0.001,
  -0.001,-0.002,-0.002,-0.002,-0.002,-0.003,-0.003,-0.003,-0.003,-0.003,
  -0.003,-0.003,-0.003,-0.003,-0.004,-0.004,-0.004,-0.004,-0.004,-0.005,
  -0.005,-0.005,-0.005,-0.005,-0.006,-0.006,-0.006,-0.006,-0.007,-0.007,
  -0.007,-0.007,-0.008,-0.008,-0.008,-0.008,-0.008,-0.008,-0.008,-0.008,
  -0.008,-0.009,-0.009,-0.009,-0.009,-0.009,-0.009,-0.009,-0.009,-0.009,
  -0.009,-0.009,-0.01,-0.01,-0.01,-0.01,-0.01,-0.01,-0.01,-0.01,
  -0.01,-0.01,-0.01,-0.01,-0.01,-0.01,-0.01,-0.01,-0.01,-0.01,
  -0.01,-0.01,-0.01,-0.01,-0.01,-0.01,-0.01,-0.01,-0.011,-0.011,
  -0.011,-0.011,-0.011,-0.011,-0.011,-0.011,-0.011,-0.011,-0.012,-0.012,
  -0.012,-0.013,-0.013,-0.014,-0.014,-0.015,-0.016,-0.016,-0.017,-0.018
];
const arMidOcean = [
  -0.036,-0.036,-0.036,-0.036,-0.036,-0.036,-0.035,-0.035,-0.035,-0.035,
  -0.035,-0.035,-0.035,-0.035,-0.035,-0.035,-0.035,-0.035,-0.035,-0.035,
  -0.035,-0.035,-0.035,-0.035,-0.035,-0.035,-0.035,-0.035,-0.035,-0.035,
  -0.035,-0.034,-0.034,-0.034,-0.034,-0.034,-0.034,-0.033,-0.033,-0.033,
  -0.033,-0.033,-0.033,-0.033,-0.033,-0.033,-0.033,-0.033,-0.033,-0.033,
  -0.033,-0.033,-0.033,-0.033,-0.033,-0.033,-0.033,-0.033,-0.032,-0.032,
  -0.033,-0.033,-0.034,-0.034,-0.034,-0.034,-0.034,-0.034,-0.034,-0.034,
  -0.034,-0.034,-0.034,-0.034,-0.034,-0.034,-0.034,-0.034,-0.034,-0.034,
  -0.034,-0.034,-0.034,-0.034,-0.034,-0.034,-0.034,-0.034,-0.034,-0.034,
  -0.034,-0.034,-0.034,-0.034,-0.034,-0.034,-0.034,-0.034,-0.034,-0.034,
  -0.035,-0.035,-0.035,-0.035,-0.035,-0.035,-0.035,-0.035,-0.036,-0.036,
  -0.036,-0.036,-0.037,-0.037,-0.037,-0.038,-0.038,-0.038,-0.039,-0.039
];

// ---------- Tropic - ocean ----------
const yTicksTropicOcean = [-0.4, -0.2, 0, 0.2, 0.4, 0.6, 0.8];
const errTropicOcean = [0.004, 0.008, 0.014, 0.006, 0.008, 0.012];
const persTropicOcean = [
  0.56,0.22,-0.06,-0.27,-0.37,-0.4,-0.37,-0.27,-0.06,0.22,0.5,0.65,
  0.5,0.22,-0.06,-0.27,-0.37,-0.415,-0.37,-0.27,-0.06,0.22,0.49,0.635,
  0.49,0.22,-0.06,-0.27,-0.37,-0.41,-0.37,-0.27,-0.06,0.22,0.51,0.66,
  0.5,0.22,-0.06,-0.27,-0.37,-0.405,-0.37,-0.27,-0.06,0.22,0.5,0.65,
  0.5,0.22,-0.06,-0.27,-0.37,-0.415,-0.37,-0.27,-0.06,0.22,0.48,0.625,
  0.48,0.22,-0.06,-0.27,-0.37,-0.415,-0.37,-0.27,-0.06,0.22,0.49,0.64,
  0.49,0.22,-0.06,-0.27,-0.37,-0.415,-0.37,-0.27,-0.06,0.22,0.5,0.65,
  0.5,0.22,-0.06,-0.27,-0.37,-0.41,-0.37,-0.27,-0.06,0.22,0.49,0.64,
  0.49,0.22,-0.06,-0.27,-0.37,-0.415,-0.37,-0.27,-0.06,0.22,0.5,0.655,
  0.5,0.22,-0.06,-0.27,-0.37,-0.41,-0.37,-0.27,-0.06,0.22,0.5,0.645
];
const resTropicOcean = [
  0.733,0.733,0.733,0.733,0.733,0.733,0.734,0.734,0.734,0.734,
  0.734,0.734,0.734,0.734,0.734,0.733,0.733,0.732,0.732,0.731,
  0.731,0.731,0.731,0.731,0.731,0.732,0.733,0.733,0.732,0.731,
  0.73,0.729,0.728,0.727,0.726,0.726,0.725,0.724,0.723,0.722,
  0.721,0.72,0.72,0.72,0.719,0.719,0.718,0.717,0.716,0.715,
  0.713,0.712,0.711,0.71,0.709,0.709,0.709,0.709,0.709,0.708,
  0.707,0.706,0.706,0.706,0.706,0.707,0.708,0.709,0.709,0.709,
  0.709,0.709,0.709,0.709,0.709,0.709,0.709,0.708,0.708,0.708,
  0.707,0.707,0.706,0.706,0.706,0.706,0.706,0.705,0.704,0.703,
  0.702,0.701,0.7,0.699,0.698,0.697,0.697,0.696,0.696,0.696,
  0.696,0.696,0.696,0.696,0.696,0.695,0.695,0.694,0.693,0.692,
  0.691,0.691,0.691,0.691,0.691,0.69,0.689,0.688,0.686,0.684
];
const noSsTropicOcean = [
  0.15,0.14,0.11,0.097,0.092,0.092,0.095,0.105,0.07,0.045,
  0.04,0.04,0.039,0.038,0.037,0.036,0.034,0.032,0.028,0.022,
  0.017,0.015,0.016,0.018,0.02,0.021,0.021,0.02,0.018,0.014,
  0.009,0.005,0.004,0.004,0.006,0.009,0.011,0.01,0.007,0.003,
  0.0,-0.001,-0.002,-0.002,-0.001,0.001,0.003,0.004,0.002,-0.002,
  -0.006,-0.01,-0.012,-0.012,-0.01,-0.006,-0.002,0.001,0.002,0.001,
  -0.002,-0.006,-0.01,-0.014,-0.016,-0.016,-0.014,-0.01,-0.005,-0.001,
  0.001,0.002,0.0,-0.004,-0.009,-0.014,-0.017,-0.018,-0.016,-0.012,
  -0.007,-0.002,0.001,0.002,0.0,-0.004,-0.01,-0.016,-0.02,-0.021,
  -0.019,-0.014,-0.008,-0.004,-0.003,-0.005,-0.01,-0.018,-0.026,-0.031,
  -0.032,-0.029,-0.023,-0.016,-0.01,-0.005,-0.002,-0.001,-0.004,-0.012,
  -0.022,-0.032,-0.038,-0.038,-0.032,-0.022,-0.012,-0.006,-0.004,-0.005
];
const plainTropicOcean = [
  -0.015,-0.015,-0.014,-0.014,-0.014,-0.013,-0.013,-0.013,-0.013,-0.013,
  -0.013,-0.012,-0.012,-0.012,-0.012,-0.012,-0.011,-0.011,-0.011,-0.011,
  -0.011,-0.011,-0.011,-0.011,-0.011,-0.011,-0.011,-0.011,-0.012,-0.012,
  -0.013,-0.013,-0.014,-0.014,-0.014,-0.014,-0.014,-0.013,-0.013,-0.013,
  -0.013,-0.013,-0.013,-0.014,-0.014,-0.015,-0.015,-0.015,-0.015,-0.015,
  -0.015,-0.015,-0.015,-0.014,-0.014,-0.014,-0.014,-0.014,-0.014,-0.014,
  -0.015,-0.015,-0.015,-0.015,-0.015,-0.015,-0.015,-0.015,-0.014,-0.014,
  -0.014,-0.014,-0.014,-0.014,-0.014,-0.015,-0.015,-0.015,-0.015,-0.015,
  -0.015,-0.015,-0.015,-0.015,-0.015,-0.015,-0.016,-0.016,-0.016,-0.016,
  -0.016,-0.016,-0.016,-0.016,-0.017,-0.017,-0.017,-0.018,-0.018,-0.018,
  -0.018,-0.018,-0.018,-0.017,-0.017,-0.017,-0.016,-0.016,-0.016,-0.016,
  -0.017,-0.017,-0.017,-0.017,-0.017,-0.017,-0.017,-0.017,-0.017,-0.017
];
const plain5TropicOcean = [
  -0.015,-0.015,-0.015,-0.015,-0.015,-0.014,-0.014,-0.014,-0.014,-0.014,
  -0.013,-0.013,-0.013,-0.013,-0.012,-0.012,-0.012,-0.012,-0.011,-0.011,
  -0.011,-0.011,-0.011,-0.011,-0.011,-0.011,-0.011,-0.011,-0.011,-0.011,
  -0.011,-0.011,-0.012,-0.012,-0.012,-0.012,-0.012,-0.012,-0.012,-0.012,
  -0.012,-0.012,-0.012,-0.013,-0.013,-0.014,-0.015,-0.015,-0.015,-0.015,
  -0.015,-0.015,-0.014,-0.013,-0.012,-0.012,-0.012,-0.013,-0.014,-0.015,
  -0.016,-0.016,-0.016,-0.015,-0.014,-0.014,-0.014,-0.014,-0.014,-0.014,
  -0.013,-0.012,-0.012,-0.012,-0.013,-0.014,-0.015,-0.016,-0.016,-0.015,
  -0.014,-0.013,-0.012,-0.012,-0.013,-0.014,-0.015,-0.016,-0.017,-0.017,
  -0.016,-0.015,-0.015,-0.015,-0.016,-0.017,-0.018,-0.019,-0.02,-0.02,
  -0.019,-0.018,-0.017,-0.016,-0.015,-0.014,-0.014,-0.014,-0.015,-0.016,
  -0.017,-0.018,-0.019,-0.019,-0.019,-0.019,-0.019,-0.019,-0.018,-0.018
];
const arTropicOcean = [
  -0.032,-0.03,-0.028,-0.027,-0.026,-0.025,-0.024,-0.024,-0.023,-0.023,
  -0.023,-0.023,-0.023,-0.023,-0.023,-0.023,-0.024,-0.025,-0.026,-0.027,
  -0.028,-0.03,-0.032,-0.034,-0.036,-0.038,-0.04,-0.042,-0.044,-0.045,
  -0.046,-0.047,-0.048,-0.049,-0.05,-0.05,-0.05,-0.05,-0.051,-0.051,
  -0.052,-0.053,-0.054,-0.055,-0.056,-0.058,-0.06,-0.062,-0.065,-0.068,
  -0.071,-0.073,-0.075,-0.076,-0.076,-0.076,-0.076,-0.076,-0.076,-0.076,
  -0.076,-0.076,-0.077,-0.077,-0.077,-0.077,-0.076,-0.075,-0.074,-0.073,
  -0.072,-0.071,-0.07,-0.07,-0.07,-0.07,-0.07,-0.07,-0.071,-0.072,
  -0.074,-0.076,-0.078,-0.08,-0.082,-0.084,-0.086,-0.088,-0.09,-0.092,
  -0.093,-0.095,-0.096,-0.097,-0.098,-0.098,-0.098,-0.098,-0.098,-0.098,
  -0.098,-0.098,-0.097,-0.096,-0.095,-0.094,-0.093,-0.092,-0.091,-0.09,
  -0.089,-0.088,-0.087,-0.086,-0.085,-0.085,-0.085,-0.084,-0.084,-0.084
];

// ---------- layout / style ----------
const seriesColors = ["#1f77b4", "#ff7f0e", "#2ca02c", "#d62728", "#9467bd", "#8c564b"];
const fontFamily = "DejaVu Sans";
const gridLeft = [101.7, 789.5, 1476.7];
const gridTop = [48.5, 547.7];
const gridWidth = 571.5;
const gridHeight = 355;

const panels = [
  { title: "Polar - land", lines: [persPolarLand, resPolarLand, noSsPolarLand, plainPolarLand, plain5PolarLand, arPolarLand], err: errPolarLand, yTicks: yTicksPolarLand, yMin: -0.261, yMax: 0.477 },
  { title: "Midlatitude - land", lines: [persMidLand, resMidLand, noSsMidLand, plainMidLand, plain5MidLand, arMidLand], err: errMidLand, yTicks: yTicksMidLand, yMin: -0.395, yMax: 0.708 },
  { title: "Tropic - land", lines: [persTropicLand, resTropicLand, noSsTropicLand, plainTropicLand, plain5TropicLand, arTropicLand], err: errTropicLand, yTicks: yTicksTropicLand, yMin: -0.46, yMax: 0.813 },
  { title: "Polar - ocean", lines: [persPolarOcean, resPolarOcean, noSsPolarOcean, plainPolarOcean, plain5PolarOcean, arPolarOcean], err: errPolarOcean, yTicks: yTicksPolarOcean, yMin: -0.274, yMax: 0.532 },
  { title: "Midlatitude - ocean", lines: [persMidOcean, resMidOcean, noSsMidOcean, plainMidOcean, plain5MidOcean, arMidOcean], err: errMidOcean, yTicks: yTicksMidOcean, yMin: -0.317, yMax: 0.584 },
  { title: "Tropic - ocean", lines: [persTropicOcean, resTropicOcean, noSsTropicOcean, plainTropicOcean, plain5TropicOcean, arTropicOcean], err: errTropicOcean, yTicks: yTicksTropicOcean, yMin: -0.487, yMax: 0.805 }
];

// legend handle: horizontal line crossed by an error bar
const plusIcon = "path://M0,7.6H46V10.4H0Z M22.2,0H23.8V18H22.2Z";

function renderErrorBar(params, api) {
  const x = api.value(0);
  const y = api.value(1);
  const e = api.value(2);
  const hi = api.coord([x, y + e]);
  const lo = api.coord([x, y - e]);
  return {
    type: "line",
    shape: { x1: hi[0], y1: hi[1], x2: lo[0], y2: lo[1] },
    style: { stroke: api.visual("color"), lineWidth: 2.4 }
  };
}

const grids = [];
const xAxes = [];
const yAxes = [];
const titles = [];
const series = [];

panels.forEach((p, k) => {
  const col = k % 3;
  const row = Math.floor(k / 3);
  grids.push({
    left: gridLeft[col],
    top: gridTop[row],
    width: gridWidth,
    height: gridHeight,
    show: true,
    borderColor: "#000",
    borderWidth: 1.3,
    backgroundColor: "#fff",
    containLabel: false,
    outerBoundsMode: "none"
  });
  titles.push({
    text: p.title,
    left: gridLeft[col] + gridWidth / 2,
    top: gridTop[row] - 34,
    textAlign: "center",
    padding: 0,
    textStyle: { fontFamily: fontFamily, fontSize: 25, fontWeight: "normal", color: "#000" }
  });
  xAxes.push({
    type: "value",
    gridIndex: k,
    position: "bottom",
    min: -4.95,
    max: 125.95,
    name: "Forecast length (months)",
    nameLocation: "middle",
    nameGap: 62,
    nameTextStyle: { fontFamily: fontFamily, fontSize: 21, color: "#000" },
    axisLine: { show: false, onZero: false },
    splitLine: { show: false },
    axisTick: { show: true, length: 7, customValues: xTicks, lineStyle: { color: "#000", width: 1.3 } },
    axisLabel: {
      customValues: xTicks,
      rotate: 90,
      margin: 15,
      fontFamily: fontFamily,
      fontSize: 21,
      color: "#000"
    }
  });
  yAxes.push({
    type: "value",
    gridIndex: k,
    position: "left",
    min: p.yMin,
    max: p.yMax,
    name: "Anomaly correlation coefficient",
    nameLocation: "middle",
    nameRotate: 90,
    nameGap: 64,
    nameTextStyle: { fontFamily: fontFamily, fontSize: 21, color: "#000" },
    axisLine: { show: false, onZero: false },
    splitLine: { show: false },
    axisTick: { show: true, length: 7, customValues: p.yTicks, lineStyle: { color: "#000", width: 1.3 } },
    axisLabel: {
      customValues: p.yTicks,
      margin: 14,
      fontFamily: fontFamily,
      fontSize: 21,
      color: "#000",
      formatter: v => v.toFixed(1)
    }
  });

  p.lines.forEach((values, s) => {
    const color = seriesColors[s];
    series.push({
      type: "custom",
      name: seriesNames[s],
      xAxisIndex: k,
      yAxisIndex: k,
      renderItem: renderErrorBar,
      encode: { x: 0, y: 1 },
      itemStyle: { color: color },
      data: values.map((v, i) => [months[i], v, p.err[s]]),
      silent: true,
      animation: false
    });
    series.push({
      type: "line",
      name: seriesNames[s],
      xAxisIndex: k,
      yAxisIndex: k,
      data: values.map((v, i) => [months[i], v]),
      symbol: "none",
      showSymbol: false,
      lineStyle: { color: color, width: 2.8 },
      itemStyle: { color: color },
      silent: true,
      animation: false
    });
  });
});

const chart = echarts.init(document.getElementById("main"));
chart.setOption({
  backgroundColor: "#fff",
  animation: false,
  textStyle: { fontFamily: fontFamily },
  title: titles,
  grid: grids,
  xAxis: xAxes,
  yAxis: yAxes,
  legend: {
    data: seriesNames,
    left: "center",
    top: 1000,
    icon: plusIcon,
    itemWidth: 46,
    itemHeight: 18,
    itemGap: 46,
    padding: [9, 7, 9, 7],
    borderColor: "#cccccc",
    borderWidth: 1,
    borderRadius: 4,
    backgroundColor: "#fff",
    selectedMode: false,
    textStyle: { fontFamily: fontFamily, fontSize: 21, color: "#000", padding: [0, 0, 0, 11] }
  },
  series: series
});
</script>
</body>
</html>
